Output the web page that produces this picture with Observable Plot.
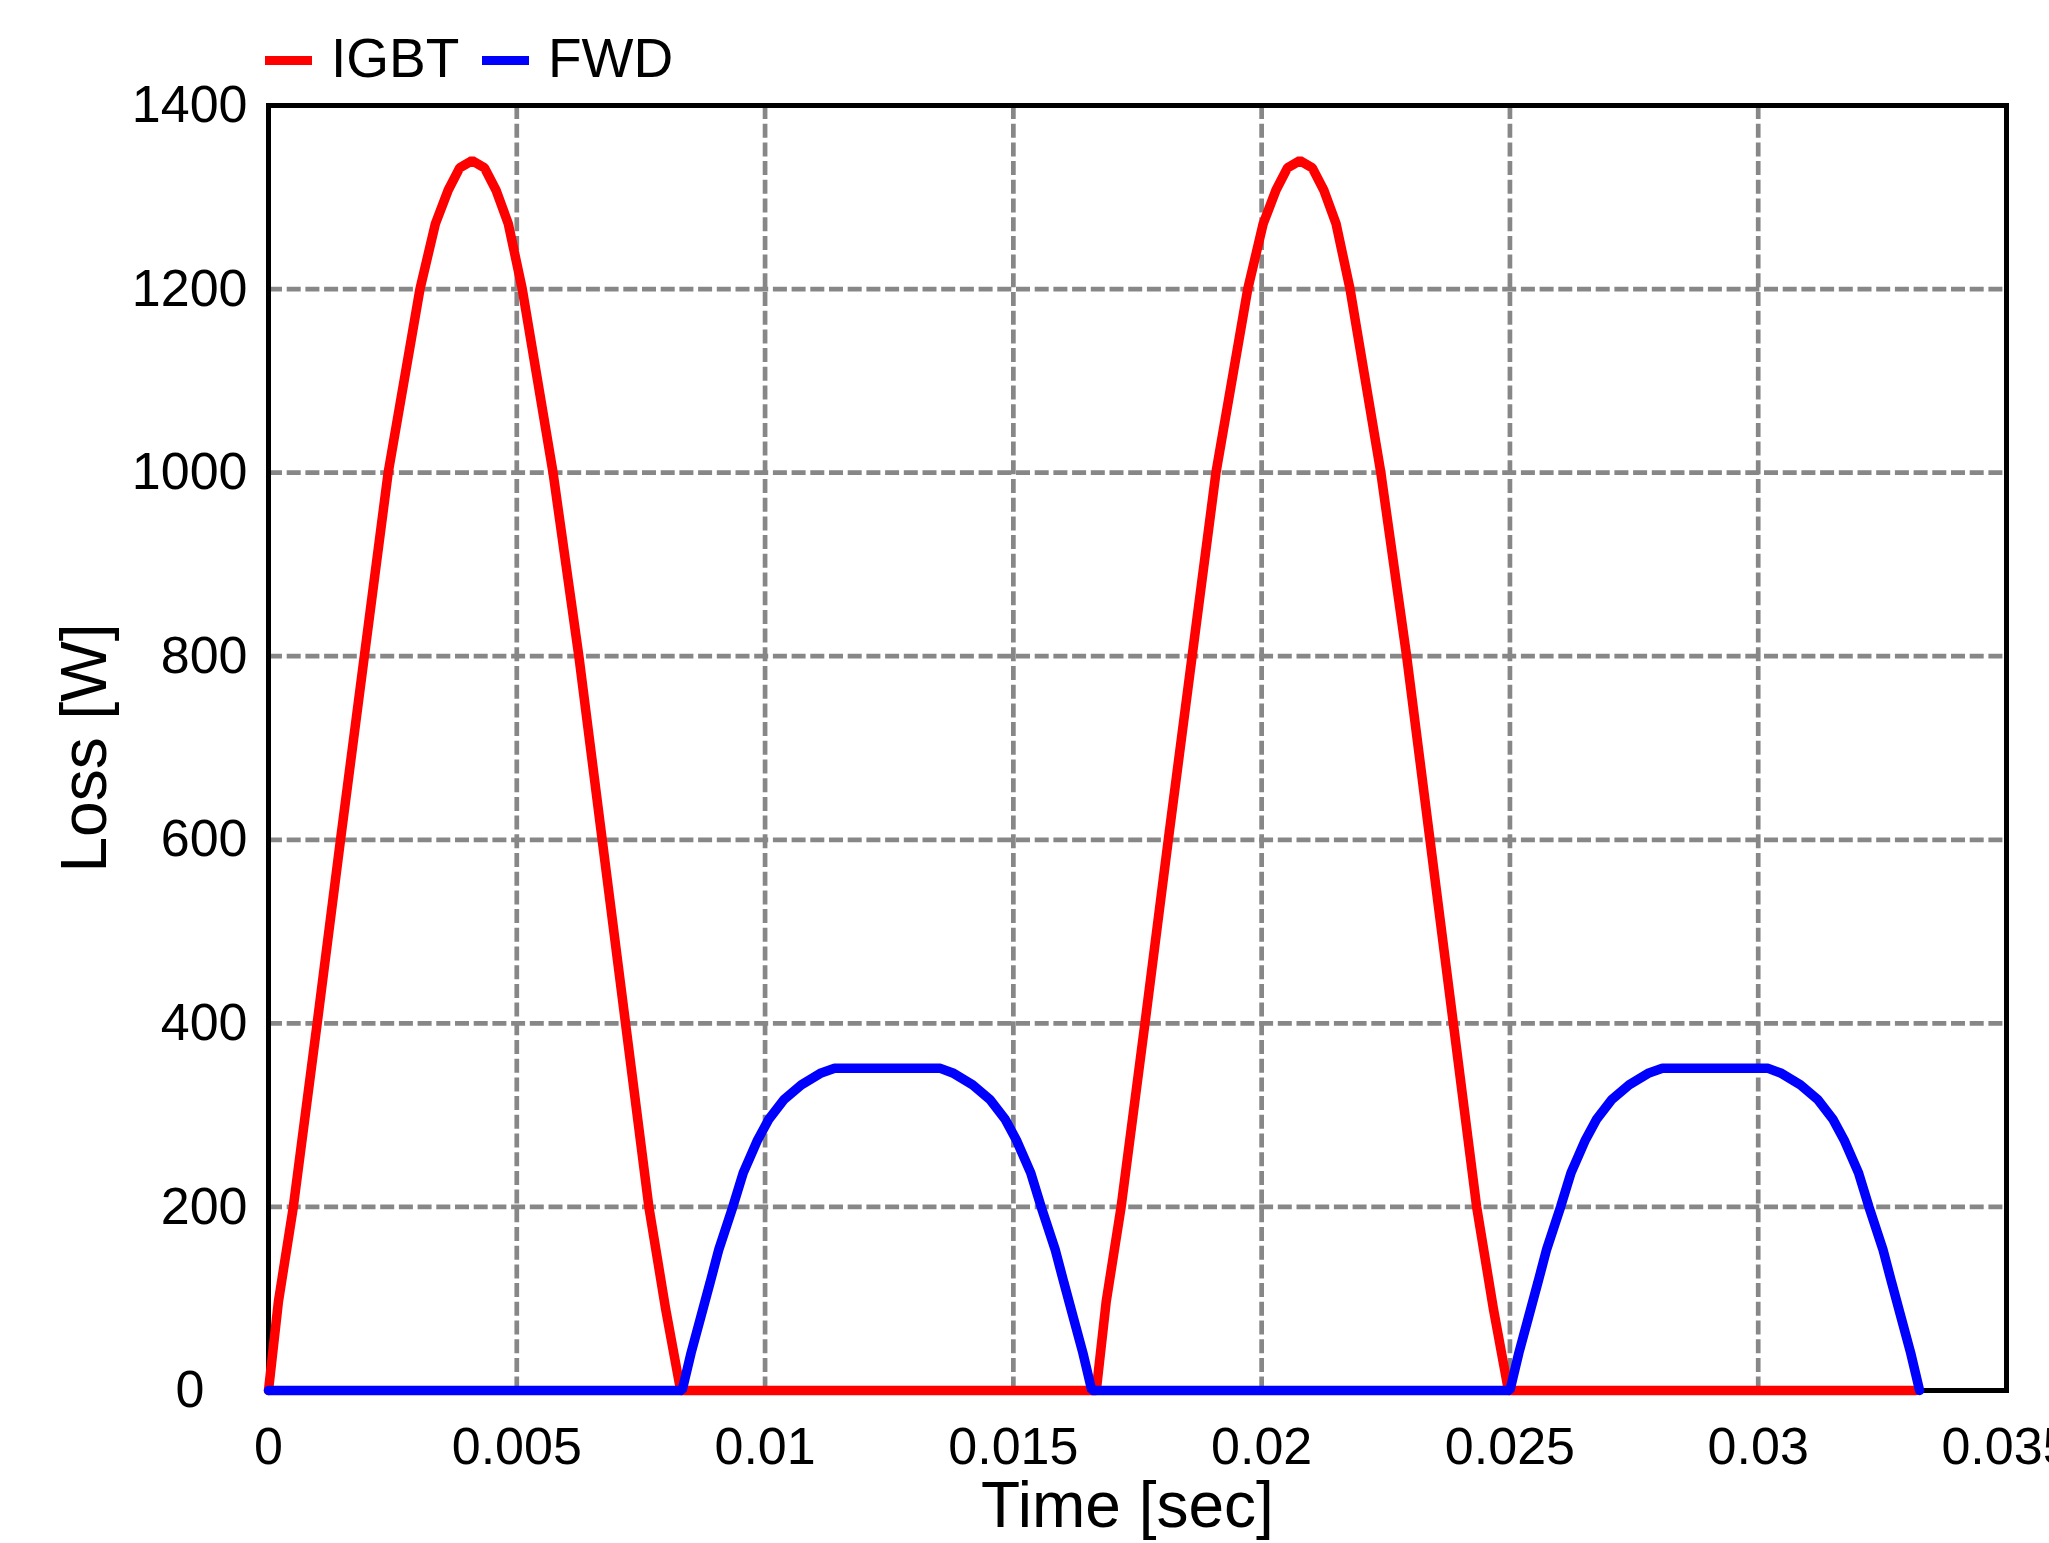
<!DOCTYPE html>
<html>
<head>
<meta charset="utf-8">
<script src="https://cdn.jsdelivr.net/npm/d3@7"></script>
<script src="https://cdn.jsdelivr.net/npm/@observablehq/plot@0.6"></script>
<style>
html, body { margin: 0; padding: 0; background: #fff; overflow: hidden; }
#legend { position: relative; width: 2049px; height: 80px; font-family: "Liberation Sans", Arial, sans-serif; font-size: 55px; color: #000; }
.sw { position: absolute; top: 56px; width: 47px; height: 9px; }
.lt { position: absolute; top: 31px; line-height: 55px; white-space: nowrap; }
</style>
</head>
<body>
<div id="legend"></div>
<div id="chart"></div>
<script>
// ---- data ----
const seriesNames = ["IGBT", "FWD"];
const seriesColors = ["#ff0000", "#0000ff"];

const igbtTime = [0, 0.0002, 0.0005, 0.00098, 0.00145, 0.00193, 0.00241, 0.00305, 0.00336, 0.00362, 0.00385, 0.0041,
  0.00435, 0.00458, 0.00483, 0.00511, 0.00573, 0.00625, 0.00672, 0.00719, 0.00766, 0.008, 0.0083,
  0.01667, 0.01687, 0.01717, 0.01765, 0.01812, 0.0186, 0.01908, 0.01972, 0.02003, 0.02029, 0.02052, 0.02077,
  0.02102, 0.02125, 0.0215, 0.02178, 0.0224, 0.02292, 0.02339, 0.02386, 0.02433, 0.02467, 0.02497, 0.03318];
const igbtLoss = [0, 97, 200, 400, 600, 800, 1000, 1200, 1271, 1308, 1332, 1340,
  1332, 1308, 1271, 1200, 1000, 800, 600, 400, 200, 88, 0,
  0, 97, 200, 400, 600, 800, 1000, 1200, 1271, 1308, 1332, 1340,
  1332, 1308, 1271, 1200, 1000, 800, 600, 400, 200, 88, 0, 0];

const fwdTime = [0, 0.00833, 0.00851, 0.0087, 0.00889, 0.00907, 0.00935, 0.00956, 0.00985, 0.01007, 0.01038,
  0.01073, 0.01113, 0.0114, 0.01353, 0.01378, 0.01418, 0.01453, 0.01484, 0.01506, 0.01535, 0.01556,
  0.01584, 0.01602, 0.01621, 0.0164, 0.01658,
  0.025, 0.02518, 0.02537, 0.02556, 0.02574, 0.02602, 0.02623, 0.02652, 0.02674, 0.02705,
  0.0274, 0.0278, 0.02807, 0.0302, 0.03045, 0.03085, 0.0312, 0.03151, 0.03173, 0.03202, 0.03223,
  0.03251, 0.03269, 0.03288, 0.03307, 0.03325];
const fwdLoss = [0, 0, 41, 79, 117, 154, 200, 237, 273, 295, 317,
  333, 346, 351, 351, 346, 333, 317, 295, 273, 237, 200,
  154, 117, 79, 41, 0,
  0, 41, 79, 117, 154, 200, 237, 273, 295, 317,
  333, 346, 351, 351, 346, 333, 317, 295, 273, 237, 200,
  154, 117, 79, 41, 0];

const xTicks = [0, 0.005, 0.01, 0.015, 0.02, 0.025, 0.03, 0.035];
const xTickLabels = ["0", "0.005", "0.01", "0.015", "0.02", "0.025", "0.03", "0.035"];
const yTicks = [0, 200, 400, 600, 800, 1000, 1200, 1400];
const yTickLabels = ["0", "200", "400", "600", "800", "1000", "1200", "1400"];
const xLabel = "Time [sec]";
const yLabel = "Loss [W]";

// ---- legend (HTML, above the svg) ----
const legend = document.getElementById("legend");
const swatchLeft = [265, 482];
const textLeft = [331, 548];
seriesNames.forEach((name, i) => {
  const sw = document.createElement("div");
  sw.className = "sw";
  sw.style.left = swatchLeft[i] + "px";
  sw.style.background = seriesColors[i];
  legend.appendChild(sw);
  const t = document.createElement("div");
  t.className = "lt";
  t.style.left = textLeft[i] + "px";
  t.textContent = name;
  legend.appendChild(t);
});

// ---- chart ----
const igbt = igbtTime.map((t, i) => ({t, v: igbtLoss[i]}));
const fwd = fwdTime.map((t, i) => ({t, v: fwdLoss[i]}));
const lookup = (ticks, labels) => d => labels[ticks.findIndex(v => Math.abs(v - d) < 1e-9)];

const gridStyle = {stroke: "#878787", strokeOpacity: 1, strokeWidth: 4.7, strokeDasharray: "14,4.7"};
const font = '"Liberation Sans", Arial, sans-serif';

const chart = Plot.plot({
  width: 2049,
  height: 1463,
  marginLeft: 268,
  marginRight: 43,
  marginTop: 25,
  marginBottom: 153,
  x: {domain: [0, 0.035]},
  y: {domain: [0, 1400]},
  style: {fontFamily: font, background: "#fff", color: "#000", overflow: "visible"},
  marks: [
    Plot.gridX(xTicks.slice(1, -1), gridStyle),
    Plot.gridY(yTicks.slice(1, -1), gridStyle),
    Plot.frame({stroke: "#000", strokeWidth: 5}),
    Plot.line(igbt, {x: "t", y: "v", stroke: seriesColors[0], strokeWidth: 9.5, strokeLinejoin: "miter"}),
    Plot.line(fwd, {x: "t", y: "v", stroke: seriesColors[1], strokeWidth: 9.5, strokeLinejoin: "miter"}),
    Plot.axisX(xTicks, {tickSize: 0, tickPadding: 37, fontSize: 52, tickFormat: lookup(xTicks, xTickLabels), label: null}),
    Plot.axisY(yTicks.slice(1), {tickSize: 0, tickPadding: 21, fontSize: 52, tickFormat: lookup(yTicks, yTickLabels), label: null}),
    Plot.axisY([yTicks[0]], {tickSize: 0, tickPadding: 64, fontSize: 52, tickFormat: lookup(yTicks, yTickLabels), label: null}),
    Plot.text([xLabel], {frameAnchor: "bottom", lineAnchor: "bottom", textAnchor: "middle", dy: 136, dx: -10, fontSize: 64, fill: "#000"}),
    Plot.text([yLabel], {frameAnchor: "left", lineAnchor: "middle", textAnchor: "middle", dx: -183, rotate: -90, fontSize: 64, fill: "#000"})
  ]
});
document.getElementById("chart").appendChild(chart);
</script>
</body>
</html>
